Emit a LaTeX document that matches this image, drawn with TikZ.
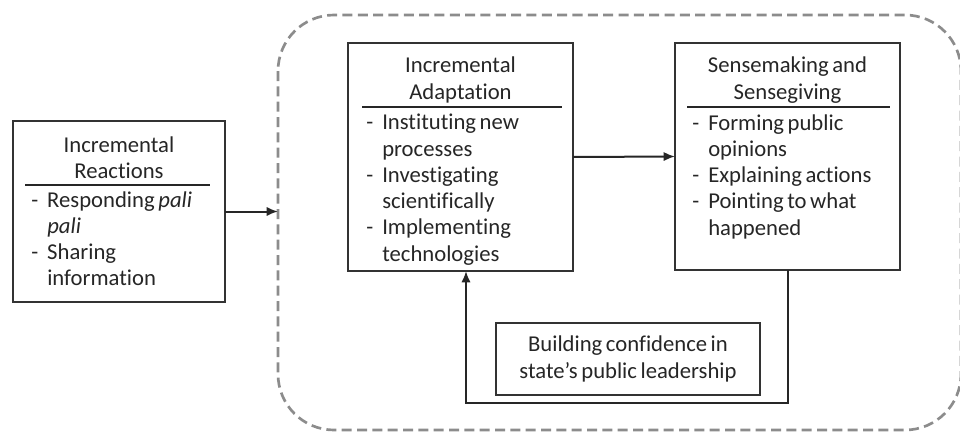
\documentclass[tikz,border=0pt]{standalone}
\usepackage{fontspec}
\setmainfont{Carlito}[WordSpace=0.7,Ligatures=NoCommon]
\usetikzlibrary{arrows.meta}
\definecolor{ink}{HTML}{262626}
\definecolor{boxline}{HTML}{333333}
\definecolor{dashgray}{HTML}{8C8C8C}
% list lines: a dash with hanging text, and a continuation line
\newcommand\dashitem[1]{\makebox[12pt][l]{-}#1}
\newcommand\contline[1]{\hspace*{12pt}#1}
\begin{document}
\begin{tikzpicture}[x=0.75pt,y=-0.75pt,
  stagebox/.style={draw=boxline,line width=1.4pt,fill=white,inner sep=0pt,outer sep=0pt},
  txt/.style={text=ink,font=\fontsize{17}{19.7}\selectfont,inner sep=0pt},
  heading/.style={txt,align=center},
  items/.style={txt,align=left,anchor=north west},
  rule/.style={draw=ink,line width=0.8pt},
  flow/.style={draw=ink,line width=1.5pt,-{Latex[length=8.5pt,width=7pt]}},
  zone/.style={draw=dashgray,line width=2pt,dash pattern=on 7.5pt off 4pt,rounded corners=42pt}
]
\useasboundingbox (0,0) rectangle (960,432);

% dashed zone around the adaptation cycle
\draw[zone] (278,15) rectangle (961,430);

% stage boxes
\node[stagebox,minimum width=159pt,minimum height=135.75pt] (reac) at (119,211.5) {};
\node[stagebox,minimum width=168.75pt,minimum height=171pt] (adapt) at (460.5,157) {};
\node[stagebox,minimum width=168.75pt,minimum height=170.25pt] (sense) at (787.5,156.5) {};
\node[stagebox,minimum width=198pt,minimum height=54pt] (conf) at (628,359) {};

% headings and separators
\node[heading] (reactitle) at (119,158) {Incremental\\Reactions};
\draw[rule] (25,185) -- (210,185);
\node[heading] (adapttitle) at (460.5,80) {Incremental\\Adaptation};
\draw[rule] (362,107) -- (562,107);
\node[heading] (sensetitle) at (787.5,80) {Sensemaking and\\Sensegiving};
\draw[rule] (687,107) -- (890,107);

% item lists
\node[items] (reacitems) at (31,191) {%
  \dashitem{Responding \textit{pali}}\\
  \contline{\textit{pali}}\\
  \dashitem{Sharing}\\
  \contline{information}};
\node[items] (adaptitems) at (366,114) {%
  \dashitem{Instituting new}\\
  \contline{processes}\\
  \dashitem{Investigating}\\
  \contline{scientifically}\\
  \dashitem{Implementing}\\
  \contline{technologies}};
\node[items] (senseitems) at (692,114) {%
  \dashitem{Forming public}\\
  \contline{opinions}\\
  \dashitem{Explaining actions}\\
  \dashitem{Pointing to what}\\
  \contline{happened}};

\node[heading] (conftext) at (628,359) {Building confidence in\\state’s public leadership};

% connectors
\coordinate (entry) at (278,211.5);
\coordinate (back) at (466,403);
\draw[flow] (reac.east) -- (entry);
\draw[flow] (adapt.east) -- (sense.west);
\draw[flow] (sense.south) |- (back) -- (back |- adapt.south);
\end{tikzpicture}
\end{document}
